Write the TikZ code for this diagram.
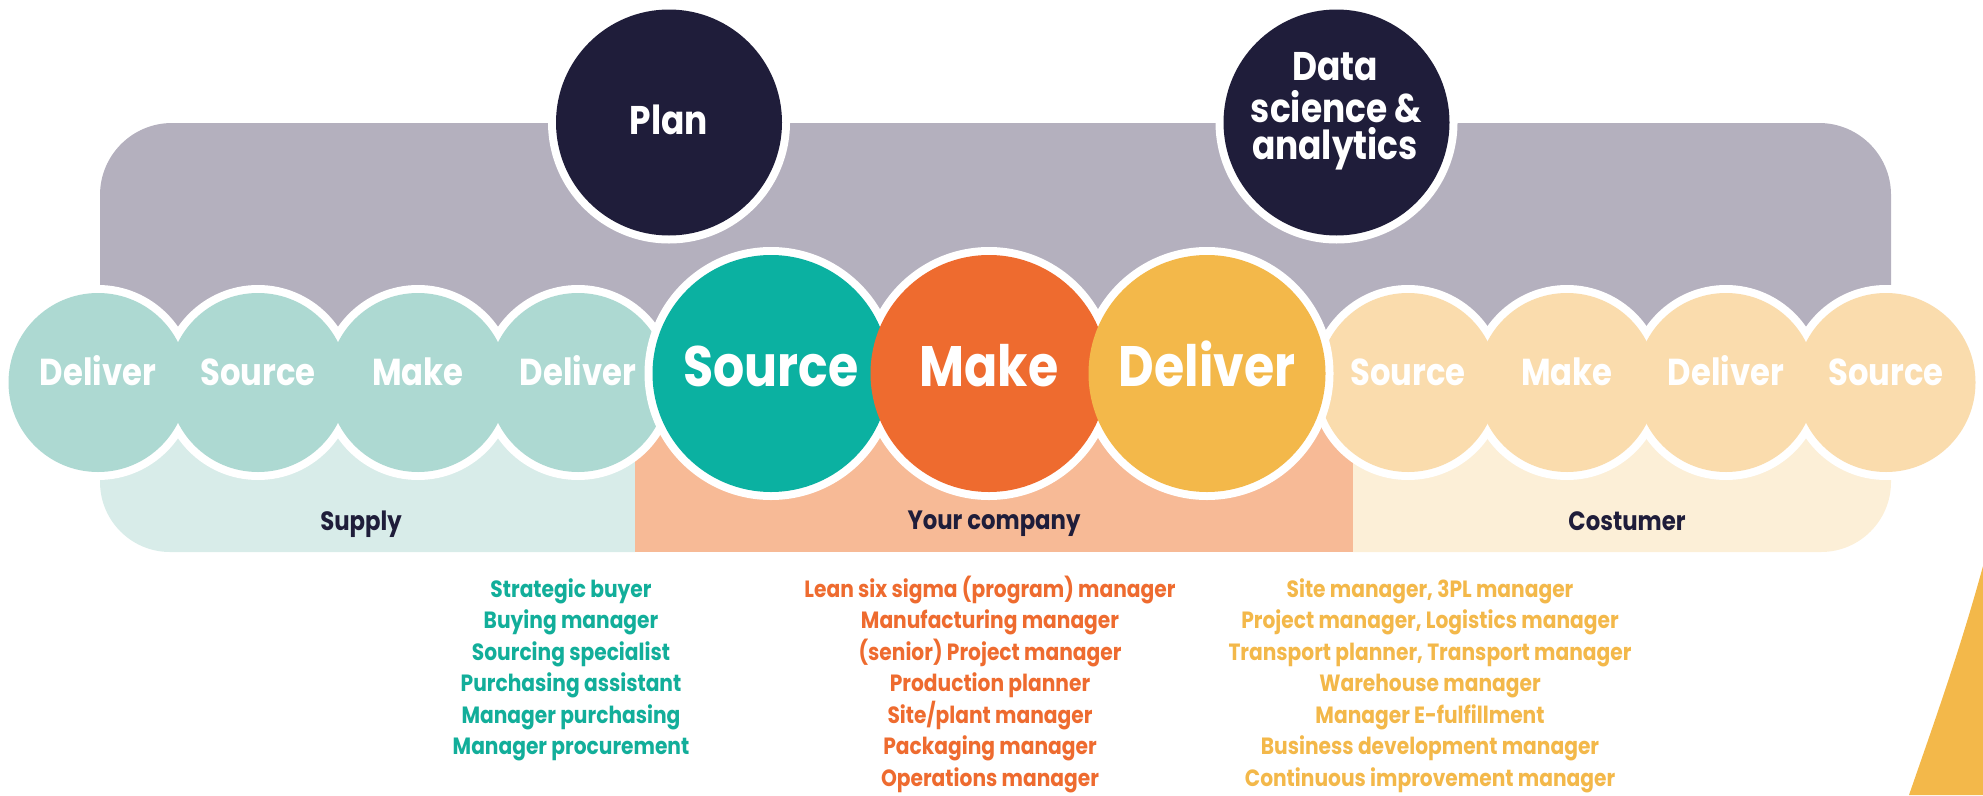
\documentclass[tikz,border=0pt]{standalone}
\usepackage{fontspec}
\newfontfamily\futfont{Poppins}[FakeStretch=0.86]

\definecolor{frame}{HTML}{B4B0BE}
\definecolor{navy}{HTML}{1F1D3A}
\definecolor{tealsoft}{HTML}{ADD9D2}
\definecolor{tealband}{HTML}{D8ECE9}
\definecolor{tealdeep}{HTML}{0BB1A1}
\definecolor{tealtext}{HTML}{12AE9A}
\definecolor{orangedeep}{HTML}{EE6B2F}
\definecolor{orangeband}{HTML}{F7BA96}
\definecolor{yellowdeep}{HTML}{F3B84A}
\definecolor{peachsoft}{HTML}{FADCAD}
\definecolor{creamband}{HTML}{FCEFD7}

\newcommand{\fsz}[1]{\futfont\bfseries\fontsize{#1}{#1}\selectfont}

\begin{document}
\begin{tikzpicture}[x=1pt,y=-1pt,
  every node/.style={inner sep=0pt,outer sep=0pt},
  smallbub/.style={circle,minimum size=179pt,fill=#1},
  bigbub/.style={circle,minimum size=237pt,fill=#1},
  topbub/.style={circle,minimum size=226pt,fill=navy},
  smalllbl/.style={anchor=base,text=white,font=\fsz{37.5}},
  biglbl/.style={anchor=base,text=white,font=\fsz{57}},
  toplbl/.style={anchor=base,text=white,font=\fsz{40}},
  bandlbl/.style={anchor=base,text=navy,font=\fsz{26.5}},
  roleline/.style={anchor=base,text=#1,font=\fsz{23.5}},
  ring/.style={fill=white}]
\useasboundingbox (0,0) rectangle (1983,795);

% grey planning frame with rounded upper corners
\fill[frame,rounded corners=72] (100,382) -- (100,123) -- (1891,123) -- (1891,382);

% chain bands
\fill[tealband] (100,382) -- (100,482) arc[start angle=180,end angle=90,radius=70]
  -- (635,552) -- (635,382) -- cycle;
\fill[orangeband] (635,382) rectangle (1353,552);
\fill[creamband] (1353,382) -- (1353,552) -- (1821,552)
  arc[start angle=90,end angle=0,radius=70] -- (1891,382) -- cycle;

% supplier bubbles
\foreach \cx in {98,258,418,578} \fill[ring] (\cx,382.5) circle[radius=97.5];
\node[smallbub=tealsoft] (sup1) at (98,382.5) {};
\node[smallbub=tealsoft] (sup2) at (258,382.5) {};
\node[smallbub=tealsoft] (sup3) at (418,382.5) {};
\node[smallbub=tealsoft] (sup4) at (578,382.5) {};

% customer bubbles
\foreach \cx in {1408,1567,1726,1886} \fill[ring] (\cx,382.5) circle[radius=97.5];
\node[smallbub=peachsoft] (cus1) at (1408,382.5) {};
\node[smallbub=peachsoft] (cus2) at (1567,382.5) {};
\node[smallbub=peachsoft] (cus3) at (1726,382.5) {};
\node[smallbub=peachsoft] (cus4) at (1886,382.5) {};

\node[smalllbl] (sup1t) at ([yshift=-3pt]sup1.center) {Deliver};
\node[smalllbl] (sup2t) at ([yshift=-3pt]sup2.center) {Source};
\node[smalllbl] (sup3t) at ([yshift=-3pt]sup3.center) {Make};
\node[smalllbl] (sup4t) at ([yshift=-3pt]sup4.center) {Deliver};
\node[smalllbl] (cus1t) at ([yshift=-3pt]cus1.center) {Source};
\node[smalllbl] (cus2t) at ([yshift=-3pt]cus2.center) {Make};
\node[smalllbl] (cus3t) at ([yshift=-3pt]cus3.center) {Deliver};
\node[smalllbl] (cus4t) at ([yshift=-3pt]cus4.center) {Source};

% own company bubbles
\foreach \cx in {771,989,1207} \fill[ring] (\cx,373.5) circle[radius=126.5];
\node[bigbub=tealdeep] (src) at (771,373.5) {};
\node[bigbub=orangedeep] (mak) at (989,373.5) {};
\node[bigbub=yellowdeep] (dlv) at (1207,373.5) {};
\node[biglbl] (srct) at ([yshift=-13pt]src.center) {Source};
\node[biglbl] (makt) at ([yshift=-13pt]mak.center) {Make};
\node[biglbl] (dlvt) at ([yshift=-13pt]dlv.center) {Deliver};

% overarching functions
\fill[ring] (669,122.5) circle[radius=121];
\fill[ring] (1336.5,122.5) circle[radius=121];
\node[topbub] (plan) at (669,122.5) {};
\node[topbub] (data) at (1336.5,122.5) {};
\node[toplbl] (plant) at ([yshift=-11.5pt]plan.center) {Plan};
\node[toplbl] (data1) at (1335,80) {Data};
\node[toplbl] (data2) at (1336.5,122) {science \&};
\node[toplbl] (data3) at (1335,159) {analytics};

% band captions
\node[bandlbl] (supl) at (361,530) {Supply};
\node[bandlbl] (ownl) at (994,529) {Your company};
\node[bandlbl] (cusl) at (1627,530) {Costumer};

% job titles per stage
\foreach \t [count=\i] in {Strategic buyer,Buying manager,Sourcing specialist,
  Purchasing assistant,Manager purchasing,Manager procurement}
  \node[roleline=tealtext] (srcjob\i) at (571,{597+31.5*(\i-1)}) {\t};
\foreach \t [count=\i] in {Lean six sigma (program) manager,Manufacturing manager,
  (senior) Project manager,Production planner,Site/plant manager,
  Packaging manager,Operations manager}
  \node[roleline=orangedeep] (makjob\i) at (990,{597+31.5*(\i-1)}) {\t};
\foreach \t [count=\i] in {{Site manager, 3PL manager},{Project manager, Logistics manager},
  {Transport planner, Transport manager},Warehouse manager,Manager E-fulfillment,
  Business development manager,Continuous improvement manager}
  \node[roleline=yellowdeep] (dlvjob\i) at (1430,{597+31.5*(\i-1)}) {\t};

% corner accent
\fill[yellowdeep] (1983,566) .. controls (1960,650) and (1935,720) .. (1909,795)
  -- (1983,795) -- cycle;
\end{tikzpicture}
\end{document}
